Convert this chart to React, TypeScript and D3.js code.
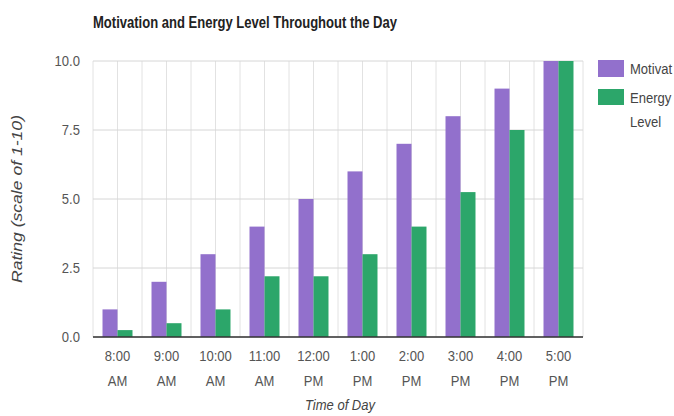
import * as d3 from 'd3';

const times = ['8:00 AM', '9:00 AM', '10:00 AM', '11:00 AM', '12:00 PM', '1:00 PM', '2:00 PM', '3:00 PM', '4:00 PM', '5:00 PM'];
const motivation = [1, 2, 3, 4, 5, 6, 7, 8, 9, 10];
const energy = [0.25, 0.5, 1, 2.2, 2.2, 3, 4, 5.25, 7.5, 10];
const yTicks = [0, 2.5, 5, 7.5, 10];
const seriesNames = ['Motivation', 'Energy Level'];
const colors = ['#9270cc', '#2ca66a'];

const W = 674;
const H = 416;
const left = 93;
const right = 583;
const top = 61;
const bottom = 337;
// the picture is slightly squeezed sideways
const squeeze = 0.87;

export default function App() {
  const x = d3.scaleBand<string>().domain(times).range([left, right]).paddingInner(0.388).paddingOuter(0.194);
  const inner = d3.scaleBand<string>().domain(seriesNames).range([0, x.bandwidth()]);
  const y = d3.scaleLinear().domain([0, 10]).range([bottom, top]);

  const step = x.step();
  // gridlines at every band edge and band centre
  const vLines: number[] = [];
  times.forEach((t) => {
    const start = x(t)! - (step - x.bandwidth()) / 2;
    vLines.push(start, start + step / 2);
  });
  vLines.push(right);

  const rows = times.map((t, i) => ({ t, values: [motivation[i], energy[i]] }));

  return (
    <div style={{ position: 'fixed', left: 0, top: 0 }}>
      <svg width={W} height={H} style={{ display: 'block', background: '#fff', fontFamily: 'Arial, "Liberation Sans", sans-serif' }}>
        <text x={93} y={28} fontSize={16} fontWeight="bold" fill="#222" textLength={304} lengthAdjust="spacingAndGlyphs">
          Motivation and Energy Level Throughout the Day
        </text>

        {/* grid */}
        <g>
          {vLines.map((v, i) => (
            <line key={`v${i}`} x1={v} x2={v} y1={top} y2={bottom} stroke="#e2e2e2" strokeWidth={1} />
          ))}
          {yTicks.map((t) => (
            <line key={`h${t}`} x1={left} x2={right} y1={y(t)} y2={y(t)} stroke="#d6d6d6" strokeWidth={1} />
          ))}
        </g>

        {/* bars */}
        <g>
          {rows.map((r) => (
            <g key={r.t} transform={`translate(${x(r.t)},0)`}>
              {r.values.map((v, j) => (
                <rect
                  key={seriesNames[j]}
                  x={inner(seriesNames[j])}
                  y={y(v)}
                  width={inner.bandwidth()}
                  height={y(0) - y(v)}
                  fill={colors[j]}
                />
              ))}
            </g>
          ))}
        </g>

        <line x1={left} x2={right} y1={y(0)} y2={y(0)} stroke="#333" strokeWidth={1.5} />

        {/* y axis labels */}
        <g fontSize={15} fill="#555" textAnchor="end">
          {yTicks.map((t) => (
            <text key={t} transform={`translate(80,${y(t)}) scale(${squeeze},1)`} dy="0.35em">
              {d3.format('.1f')(t)}
            </text>
          ))}
        </g>

        {/* x axis labels */}
        <g fontSize={15} fill="#555" textAnchor="middle">
          {times.map((t) => {
            const [a, b] = t.split(' ');
            const cx = x(t)! + x.bandwidth() / 2;
            return (
              <g key={t}>
                <text transform={`translate(${cx},361) scale(${squeeze},1)`}>{a}</text>
                <text transform={`translate(${cx},386) scale(${squeeze},1)`}>{b}</text>
              </g>
            );
          })}
        </g>

        <text x={340} y={410} fontSize={14} fontStyle="italic" fill="#444" textAnchor="middle" textLength={70} lengthAdjust="spacingAndGlyphs">
          Time of Day
        </text>
        <text
          transform={`translate(22,199) rotate(-90)`}
          fontSize={15}
          fontStyle="italic"
          fill="#444"
          textAnchor="middle"
          textLength={168}
          lengthAdjust="spacingAndGlyphs"
        >
          Rating (scale of 1-10)
        </text>

        {/* legend */}
        <g fontSize={15} fill="#444">
          <rect x={598} y={60} width={26} height={17} fill={colors[0]} />
          <text transform={`translate(630,74) scale(${squeeze},1)`}>Motivat</text>
          <rect x={598} y={89} width={26} height={16} fill={colors[1]} />
          <text transform={`translate(630,103) scale(${squeeze},1)`}>Energy</text>
          <text transform={`translate(630,127) scale(${squeeze},1)`}>Level</text>
        </g>
      </svg>
    </div>
  );
}
